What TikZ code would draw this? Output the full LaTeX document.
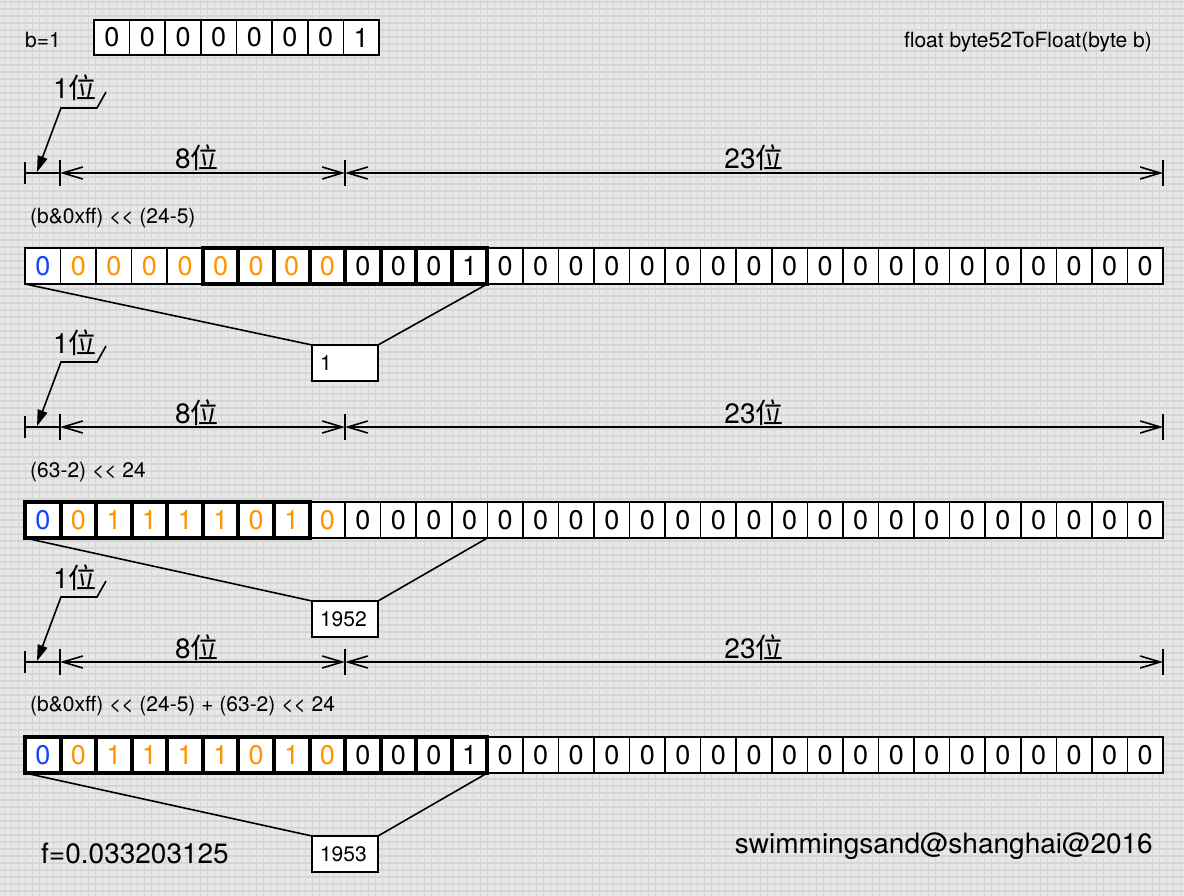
\documentclass[tikz,border=0pt]{standalone}
\usepackage{fontspec}
\setmainfont{TeX Gyre Heros}
\newfontfamily\cjk{Noto Sans CJK SC}
\usetikzlibrary{arrows.meta}
\definecolor{bgc}{HTML}{E8E8E8}
\definecolor{gridc}{HTML}{D6D6D6}
\definecolor{orng}{HTML}{FF9400}
\definecolor{blu}{HTML}{1444FF}
\newcommand\fs[1]{\fontsize{#1}{#1}\selectfont}
\newcommand\wei{{\cjk 位}}
\tikzset{
  cell/.style={draw, line width=1.6pt, fill=white, minimum width=35.5625pt,
    minimum height=36pt, inner sep=0pt, outer sep=0pt, font=\fs{27}},
  thickbd/.style={draw, line width=4pt},
  lbl/.style={draw, fill=white, line width=1.6pt, minimum height=36pt,
    text width=50pt, inner xsep=8pt, inner ysep=0pt, align=left,
    font=\fs{21}, outer sep=0pt, anchor=north west},
  conn/.style={line width=1.6pt},
  dimln/.style={line width=1.6pt},
  dimarr/.style={{Straight Barb[length=20pt,width=12pt]}-{Straight Barb[length=20pt,width=12pt]}},
  dimtxt/.style={font=\fs{28}, inner sep=0pt},
  small/.style={font=\fs{21}, inner sep=0pt},
  big/.style={font=\fs{28}, inner sep=0pt},
  gridln/.style={gridc, line width=1.6pt}
}
\newcommand\bitrow[5]{%
  \foreach \v [count=\k from 0] in {#3} {%
    \ifnum\k=0 \def\tc{blu}\else\ifnum\k<9 \def\tc{orng}\else\def\tc{black}\fi\fi
    \node[cell, text=\tc] (#1\k) at ({25+35.5625*(\k+0.5)}, {#2+18}) {\v};
  }
  \foreach \k in {#4,...,#5} \draw[thickbd] (#1\k.south west) rectangle (#1\k.north east);
}
\newcommand\dimset[2]{%
  \begin{scope}[shift={(0,#2)}]
    \node[dimtxt, anchor=base] (#1one) at (75,99) {1\wei};
    \coordinate (#1tip) at (37,172);
    \coordinate (#1k1) at (106,92);
    \coordinate (#1k2) at (97,108);
    \coordinate (#1k3) at (61,108);
    \draw[dimln, -{Triangle[length=16pt,width=10pt]}] (#1k1) -- (#1k2) -- (#1k3) -- (#1tip);
    \coordinate (#1a) at (25,173);
    \coordinate (#1b) at (60,173);
    \coordinate (#1c) at (345,173);
    \coordinate (#1d) at (1163,173);
    \draw[dimln] ([yshift=11pt]#1a) -- ([yshift=-11pt]#1a);
    \draw[dimln] ([yshift=13pt]#1b) -- ([yshift=-13pt]#1b);
    \draw[dimln] ([yshift=13pt]#1c) -- ([yshift=-13pt]#1c);
    \draw[dimln] ([yshift=13pt]#1d) -- ([yshift=-13pt]#1d);
    \draw[dimln] (#1a) -- (#1b);
    \draw[dimln, dimarr] (#1b) -- (#1c);
    \draw[dimln, dimarr] (#1c) -- (#1d);
    \node[dimtxt, anchor=base] (#1eight) at (197,169) {8\wei};
    \node[dimtxt, anchor=base] (#1tt) at (754,169) {23\wei};
  \end{scope}
}
\begin{document}
\begin{tikzpicture}[x=1pt,y=-1pt]
\useasboundingbox (0,0) rectangle (1184,896);
\fill[bgc] (0,0) rectangle (1184,896);
\foreach \i in {0,...,169} \draw[gridln] ({4.5+7*\i},0) -- ({4.5+7*\i},896);
\foreach \j in {0,...,128} \draw[gridln] (0,{2+7*\j}) -- (1184,{2+7*\j});

% top byte
\node[small, anchor=west] (bval) at (25,40) {b=1};
\foreach \v [count=\k from 0] in {0,0,0,0,0,0,0,1}
  \node[cell, minimum height=35pt] (t\k) at ({94+35.625*(\k+0.5)}, 37.5) {\v};
\node[small, anchor=east] (title) at (1152,42) {float byte52ToFloat(byte b)};

% section 1
\dimset{s1}{0}
\node[small, anchor=west] (f1) at (30,218) {(b\&0xff) <{}< (24-5)};
\bitrow{ra}{248}{0,0,0,0,0,0,0,0,0,0,0,0,1,0,0,0,0,0,0,0,0,0,0,0,0,0,0,0,0,0,0,0}{5}{12}
\node[lbl] (la) at (312,345) {1};
\draw[conn] (ra0.south west) -- (la.north west);
\draw[conn] (ra12.south east) -- (la.north east);

% section 2
\dimset{s2}{254}
\node[small, anchor=west] (f2) at (30,472) {(63-2) <{}< 24};
\bitrow{rb}{502}{0,0,1,1,1,1,0,1,0,0,0,0,0,0,0,0,0,0,0,0,0,0,0,0,0,0,0,0,0,0,0,0}{0}{7}
\node[lbl] (lb) at (312,601) {1952};
\draw[conn] (rb0.south west) -- (lb.north west);
\draw[conn] (rb12.south east) -- (lb.north east);

% section 3
\dimset{s3}{489}
\node[small, anchor=west] (f3) at (30,706) {(b\&0xff) <{}< (24-5) + (63-2) <{}< 24};
\bitrow{rc}{737}{0,0,1,1,1,1,0,1,0,0,0,0,1,0,0,0,0,0,0,0,0,0,0,0,0,0,0,0,0,0,0,0}{0}{12}
\node[lbl] (lc) at (312,836) {1953};
\draw[conn] (rc0.south west) -- (lc.north west);
\draw[conn] (rc12.south east) -- (lc.north east);

\node[big, anchor=base west] (fval) at (41,863) {f=0.033203125};
\node[big, anchor=base east] (sig) at (1153,853) {swimmingsand@shanghai@2016};
\end{tikzpicture}
\end{document}
